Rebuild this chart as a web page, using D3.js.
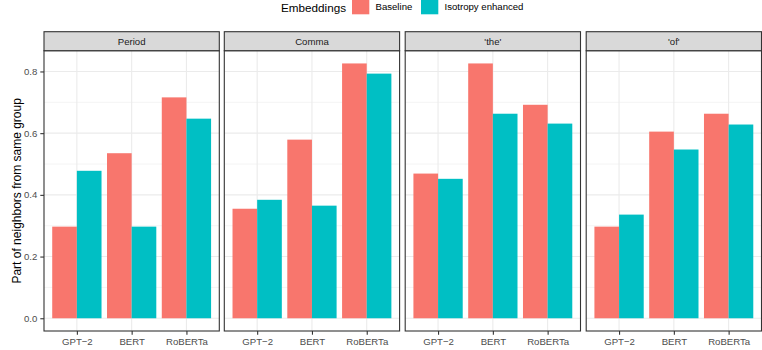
<!DOCTYPE html>
<html>
<head>
<meta charset="utf-8">
<script src="https://cdn.jsdelivr.net/npm/d3@7"></script>
<style>
  body { margin: 0; background: #fff; }
  svg { display: block; font-family: "Liberation Sans", Arial, sans-serif; }
</style>
</head>
<body>
<svg id="chart" width="762" height="350"></svg>
<script>
// Facets, models and embedding variants
const facets = ["Period", "Comma", "'the'", "'of'"];
const models = ["GPT\u22122", "BERT", "RoBERTa"];
const series = ["Baseline", "Isotropy enhanced"];
const colors = ["#F8766D", "#00BFC4"];

// Part of neighbors from same group, per facet, per model
const baseline = [
  [0.297, 0.535, 0.716],
  [0.355, 0.579, 0.826],
  [0.469, 0.826, 0.692],
  [0.297, 0.605, 0.663]
];
const isotropy = [
  [0.478, 0.297, 0.647],
  [0.384, 0.365, 0.793],
  [0.452, 0.663, 0.631],
  [0.336, 0.547, 0.628]
];
const yTicks = [0, 0.2, 0.4, 0.6, 0.8];
const yMinor = [0.1, 0.3, 0.5, 0.7];

const svg = d3.select("#chart");

const panelTop = 50.7, panelBottom = 331;
const panelLefts = [44, 224.3, 405.2, 586.2];
const panelW = 175.3;
const stripH = 19;

const maxV = d3.max([...baseline.flat(), ...isotropy.flat()]);
const pad = maxV * 0.05;
const y = d3.scaleLinear().domain([-pad, maxV + pad]).range([panelBottom, panelTop]);

// Legend
const legend = svg.append("g");
legend.append("text").attr("x", 281).attr("y", 12)
  .attr("font-size", 11.7).attr("fill", "#000").text("Embeddings");
const legendX = [352, 421];
series.forEach((s, i) => {
  legend.append("rect").attr("x", legendX[i]).attr("y", -3)
    .attr("width", 17.3).attr("height", 17.3).attr("fill", colors[i]);
  legend.append("text").attr("x", legendX[i] + 23.5).attr("y", 9.5)
    .attr("font-size", 9.6).attr("fill", "#000").text(s);
});

// Y axis title
svg.append("text")
  .attr("transform", `translate(20.5,${(panelTop + panelBottom) / 2}) rotate(-90)`)
  .attr("text-anchor", "middle").attr("font-size", 12).attr("fill", "#000")
  .text("Part of neighbors from same group");

facets.forEach((f, fi) => {
  const x0 = panelLefts[fi];
  // Discrete positions at 1..3 within limits 0.4..3.6
  const xc = d3.scalePoint().domain(models).range([x0 + panelW * 0.6 / 3.2, x0 + panelW * 2.6 / 3.2]);
  const unit = panelW / 3.2;
  const barW = unit * 0.45;

  const g = svg.append("g");

  // Grid
  g.selectAll(".minor").data(yMinor).join("line")
    .attr("x1", x0).attr("x2", x0 + panelW)
    .attr("y1", d => y(d)).attr("y2", d => y(d))
    .attr("stroke", "#EBEBEB").attr("stroke-width", 0.55);
  g.selectAll(".major").data(yTicks).join("line")
    .attr("x1", x0).attr("x2", x0 + panelW)
    .attr("y1", d => y(d)).attr("y2", d => y(d))
    .attr("stroke", "#EBEBEB").attr("stroke-width", 1.1);
  g.selectAll(".vmajor").data(models).join("line")
    .attr("x1", d => xc(d)).attr("x2", d => xc(d))
    .attr("y1", panelTop).attr("y2", panelBottom)
    .attr("stroke", "#EBEBEB").attr("stroke-width", 1.1);

  // Bars
  [baseline, isotropy].forEach((vals, si) => {
    g.selectAll(".bar" + si).data(models).join("rect")
      .attr("x", (d) => xc(d) - unit * 0.45 + si * barW)
      .attr("width", barW)
      .attr("y", (d, i) => y(vals[fi][i]))
      .attr("height", (d, i) => y(0) - y(vals[fi][i]))
      .attr("fill", colors[si]);
  });

  // Panel border
  g.append("rect").attr("x", x0).attr("y", panelTop)
    .attr("width", panelW).attr("height", panelBottom - panelTop)
    .attr("fill", "none").attr("stroke", "#333333").attr("stroke-width", 1.1);

  // Strip
  g.append("rect").attr("x", x0).attr("y", panelTop - stripH)
    .attr("width", panelW).attr("height", stripH)
    .attr("fill", "#D9D9D9").attr("stroke", "#333333").attr("stroke-width", 1.1);
  g.append("text").attr("x", x0 + panelW / 2).attr("y", panelTop - stripH / 2 + 3.5)
    .attr("text-anchor", "middle").attr("font-size", 9.6).attr("fill", "#1A1A1A")
    .text(f);

  // X axis
  const xAxis = g.append("g").attr("transform", `translate(0,${panelBottom})`)
    .call(d3.axisBottom(xc).tickSize(3.7).tickPadding(3));
  xAxis.select(".domain").remove();
  xAxis.selectAll("line").attr("stroke", "#333333").attr("stroke-width", 1.1);
  xAxis.selectAll("text").attr("font-size", 9.6).attr("fill", "#4D4D4D")
    .attr("font-family", "Liberation Sans, Arial, sans-serif");

  // Y axis only on first panel
  if (fi === 0) {
    const yAxis = g.append("g").attr("transform", `translate(${x0},0)`)
      .call(d3.axisLeft(y).tickValues(yTicks).tickFormat(d3.format(".1f")).tickSize(3.7).tickPadding(3));
    yAxis.select(".domain").remove();
    yAxis.selectAll("line").attr("stroke", "#333333").attr("stroke-width", 1.1);
    yAxis.selectAll("text").attr("font-size", 9.6).attr("fill", "#4D4D4D")
      .attr("font-family", "Liberation Sans, Arial, sans-serif");
  }
});
</script>
</body>
</html>
